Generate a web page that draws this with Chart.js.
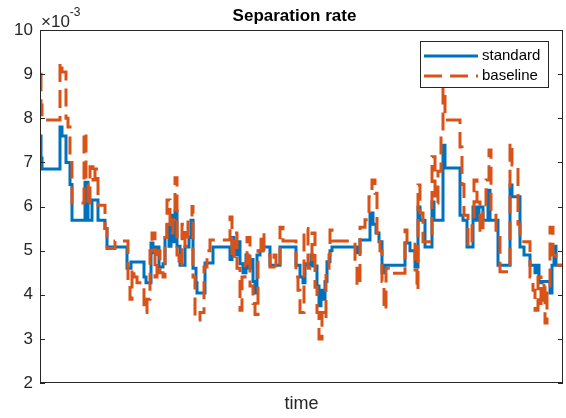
<!DOCTYPE html>
<html>
<head>
<meta charset="utf-8">
<script src="https://cdn.jsdelivr.net/npm/chart.js@4/dist/chart.umd.min.js"></script>
<style>
  html, body { margin: 0; padding: 0; background: #fff; }
</style>
</head>
<body>
<canvas id="chart" width="566" height="418"></canvas>
<script>
// time index (arbitrary units, 0..523) and separation rate in units of 1e-3
const standardTime = [0, 1, 2, 20, 22, 26, 30, 32, 45, 48, 52, 58, 65, 67, 87, 91, 104, 106, 111, 113, 116, 119, 123,
  125, 127, 129, 131, 133, 135, 137, 140, 145, 149, 151, 153, 156, 157, 165, 173, 190, 192, 194, 197, 200, 203, 206,
  208, 211, 213, 215, 217, 220, 223, 230, 240, 256, 260, 263, 265, 268, 271, 273, 277, 279, 281, 283, 285, 287, 290,
  292, 317, 320, 330, 333, 336, 339, 342, 345, 365, 370, 375, 378, 380, 385, 392, 394, 403, 405, 420, 423, 427, 433,
  436, 439, 443, 448, 450, 458, 470, 472, 480, 484, 490, 495, 497, 499, 502, 510, 512, 514, 516, 523];
const standardRate = [7.6, 7.1, 6.85, 7.8, 7.6, 7.0, 6.5, 5.69, 6.55, 5.69, 6.15, 5.69, 5.5, 5.08, 4.6, 4.74, 4.4,
  4.27, 5.17, 4.95, 5.08, 4.63, 4.7, 5.3, 5.58, 5.1, 5.8, 5.2, 5.9, 5.1, 4.67, 5.08, 5.3, 5.69, 4.6, 4.27, 4.04,
  4.72, 5.08, 4.8, 5.3, 4.9, 5.2, 4.7, 4.5, 4.9, 4.6, 4.8, 4.3, 4.04, 4.9, 5.0, 5.08, 4.67, 5.08, 4.67, 4.4, 4.27,
  4.7, 4.67, 4.9, 4.65, 4.2, 3.75, 4.1, 3.9, 4.3, 4.75, 5.0, 5.08, 4.95, 5.24, 5.85, 5.6, 5.4, 5.2, 4.5, 4.67, 5.17,
  5.0, 4.63, 5.99, 5.69, 5.08, 6.1, 5.69, 7.39, 6.87, 5.8, 5.69, 5.08, 5.99, 5.69, 5.99, 5.69, 6.37, 5.69, 4.67,
  6.49, 6.22, 5.08, 4.9, 4.67, 4.5, 4.67, 4.27, 4.3, 4.04, 4.67, 5.1, 4.67, 4.67];

const baselineTime = [0, 1, 2, 20, 22, 26, 28, 30, 32, 44, 46, 48, 50, 53, 55, 58, 65, 67, 75, 88, 90, 92, 94, 97,
  104, 107, 110, 112, 115, 117, 120, 123, 125, 127, 130, 133, 135, 137, 139, 142, 145, 148, 152, 153, 155, 160, 164,
  167, 170, 190, 192, 194, 197, 200, 202, 205, 207, 210, 213, 215, 218, 221, 224, 227, 230, 234, 236, 240, 243, 256,
  258, 260, 264, 268, 272, 275, 277, 279, 282, 284, 286, 289, 290, 292, 315, 317, 320, 325, 329, 332, 335, 337, 340,
  342, 344, 346, 350, 365, 367, 375, 377, 378, 380, 383, 392, 395, 398, 401, 403, 405, 420, 422, 424, 428, 432, 434,
  437, 440, 443, 446, 449, 451, 456, 460, 470, 472, 478, 480, 490, 493, 495, 498, 501, 504, 505, 507, 510, 513, 516,
  523];
const baselineRate = [9.0, 8.3, 7.96, 9.27, 9.05, 8.0, 7.8, 7.0, 6.08, 7.69, 6.5, 6.0, 6.9, 6.6, 6.85, 6.03, 5.5,
  5.05, 5.22, 4.3, 3.9, 4.6, 4.4, 4.27, 3.6, 3.9, 5.0, 5.4, 4.4, 5.0, 4.5, 4.4, 5.3, 6.15, 5.4, 5.7, 6.65, 4.9, 4.63,
  5.6, 5.1, 5.7, 6.0, 4.4, 3.43, 3.6, 4.63, 5.0, 5.24, 5.76, 4.8, 5.4, 4.6, 3.65, 4.4, 4.7, 5.3, 4.2, 3.8, 3.55, 5.0,
  5.4, 5.0, 4.9, 4.63, 4.9, 4.6, 5.53, 5.22, 4.4, 4.1, 3.6, 5.5, 4.6, 5.4, 4.17, 3.6, 3.0, 3.6, 3.45, 4.6, 4.9, 5.47,
  5.22, 4.6, 4.2, 5.53, 5.7, 6.22, 6.6, 6.3, 5.4, 5.0, 4.3, 3.65, 4.6, 4.49, 5.47, 5.2, 4.56, 4.1, 6.49, 5.85, 5.2,
  7.13, 6.08, 6.8, 7.66, 8.69, 7.96, 7.35, 6.5, 5.8, 5.1, 5.7, 6.6, 6.1, 5.4, 6.0, 6.6, 7.28, 5.8, 5.3, 4.52, 7.44,
  6.94, 5.6, 5.2, 4.4, 4.1, 3.65, 4.4, 3.75, 4.3, 3.36, 4.2, 5.53, 4.9, 4.67, 4.67];

const yTicks = [2, 3, 4, 5, 6, 7, 8, 9, 10];
const seriesNames = ['standard', 'baseline'];

const axisColor = '#262626';
const fontFamily = '"Liberation Sans", Arial, sans-serif';

const matlabFrame = {
  id: 'matlabFrame',
  afterDraw(chart) {
    const { ctx, chartArea: a, scales } = chart;
    ctx.save();
    ctx.strokeStyle = axisColor;
    ctx.lineWidth = 1;
    ctx.strokeRect(Math.round(a.left) + 0.5, Math.round(a.top) + 0.5,
      Math.round(a.right - a.left) - 1, Math.round(a.bottom - a.top) - 1);
    // inner ticks left and right
    ctx.beginPath();
    yTicks.forEach(v => {
      const y = Math.round(scales.y.getPixelForValue(v)) + 0.5;
      ctx.moveTo(a.left, y); ctx.lineTo(a.left + 5, y);
      ctx.moveTo(a.right - 5, y); ctx.lineTo(a.right, y);
    });
    ctx.stroke();

    // title
    ctx.fillStyle = '#000';
    ctx.font = 'bold 17px ' + fontFamily;
    ctx.textAlign = 'center';
    ctx.textBaseline = 'alphabetic';
    ctx.fillText('Separation rate', (a.left + a.right) / 2 - 7, 21);

    // exponent label
    ctx.fillStyle = axisColor;
    ctx.textAlign = 'left';
    ctx.font = '17px ' + fontFamily;
    ctx.fillText('\u00d710', a.left + 1, 27);
    const w = ctx.measureText('\u00d710').width;
    ctx.font = '12px ' + fontFamily;
    ctx.fillText('-3', a.left + 1 + w, 16);

    // legend
    const lx = 420, ly = 41, lw = 128, lh = 46;
    ctx.fillStyle = '#fff';
    ctx.fillRect(lx, ly, lw, lh);
    ctx.strokeStyle = axisColor;
    ctx.strokeRect(lx + 0.5, ly + 0.5, lw, lh);
    chart.data.datasets.slice().sort((p, q) => seriesNames.indexOf(p.label) - seriesNames.indexOf(q.label))
      .forEach((ds, i) => {
        const y = ly + 15 + i * 20;
        ctx.beginPath();
        ctx.strokeStyle = ds.borderColor;
        ctx.lineWidth = ds.borderWidth;
        ctx.setLineDash(ds.borderDash || []);
        ctx.moveTo(lx + 4, y); ctx.lineTo(lx + 58, y);
        ctx.stroke();
        ctx.setLineDash([]);
        ctx.fillStyle = '#000';
        ctx.font = '15px ' + fontFamily;
        ctx.textBaseline = 'middle';
        ctx.fillText(ds.label, lx + 62, y);
      });
    ctx.restore();
  }
};

new Chart(document.getElementById('chart'), {
  type: 'line',
  data: {
    datasets: [
      {
        label: seriesNames[0],
        data: standardTime.map((t, i) => ({ x: t, y: standardRate[i] })),
        borderColor: '#0072BD',
        borderWidth: 3,
        pointRadius: 0,
        stepped: 'before',
        order: 1
      },
      {
        label: seriesNames[1],
        data: baselineTime.map((t, i) => ({ x: t, y: baselineRate[i] })),
        borderColor: '#D95319',
        borderWidth: 3,
        borderDash: [18, 8],
        pointRadius: 0,
        stepped: 'before',
        order: 0
      }
    ]
  },
  options: {
    responsive: false,
    animation: false,
    devicePixelRatio: 1,
    layout: { padding: { top: 30, right: 3, left: 0, bottom: 0 } },
    plugins: { legend: { display: false }, tooltip: { enabled: false }, title: { display: false } },
    scales: {
      x: {
        type: 'linear',
        min: 0,
        max: 523,
        grid: { display: false, drawTicks: false },
        border: { display: false },
        ticks: { display: false },
        title: {
          display: true, text: 'time', color: axisColor,
          font: { size: 18, family: fontFamily },
          padding: { top: 0, bottom: 3 }
        },
        afterFit(scale) { scale.height = 35; }
      },
      y: {
        min: 2,
        max: 10,
        grid: { display: false, drawTicks: false },
        border: { display: false },
        afterBuildTicks(scale) { scale.ticks = yTicks.map(v => ({ value: v })); },
        ticks: {
          color: axisColor, padding: 7,
          font: { size: 17, family: fontFamily }
        },
        afterFit(scale) { scale.width = 40; }
      }
    }
  },
  plugins: [matlabFrame]
});
</script>
</body>
</html>
